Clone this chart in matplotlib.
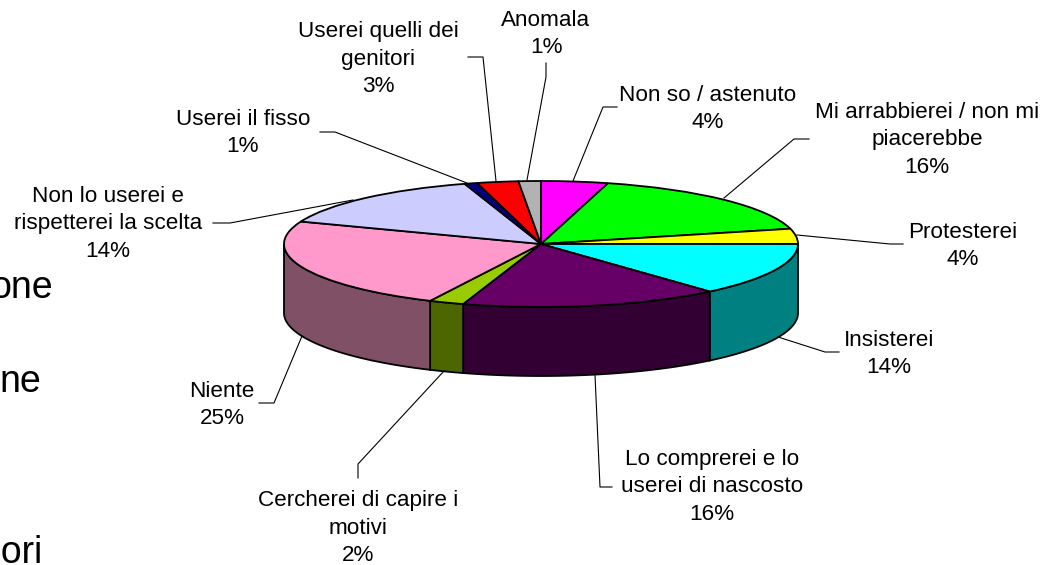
import matplotlib
matplotlib.use('Agg')
import matplotlib.pyplot as plt
import numpy as np

plt.rcParams['font.family'] = ['Liberation Sans', 'DejaVu Sans']

# shares, clockwise from 12 o'clock
labels = ['Non so / astenuto\n4%', 'Mi arrabbierei / non mi\npiacerebbe\n16%',
          'Protesterei\n4%', 'Insisterei\n14%',
          'Lo comprerei e lo\nuserei di nascosto\n16%',
          'Cercherei di capire i\nmotivi\n2%', 'Niente\n25%',
          'Non lo userei e\nrispetterei la scelta\n14%', 'Userei il fisso\n1%',
          'Userei quelli dei\ngenitori\n3%', 'Anomala\n1%']
values = [4.2, 16.9, 3.9, 13.6, 16.3, 2.2, 23.7, 14.4, 0.8, 2.6, 1.4]
top_colors = ['#FF00FF', '#00FF00', '#FFFF00', '#00FFFF', '#660066', '#99CC00',
              '#FF99CC', '#CCCCFF', '#000080', '#FF0000', '#B2B2B2']
side_colors = ['#800080', '#008000', '#808000', '#008080', '#330033', '#4D6600',
               '#805066', '#666680', '#000040', '#800000', '#595959']

# layout in pixels
W, H = 1051, 565
CX, CY = 541, 244
RX, RY = 257, 63
DEPTH = 69
label_pos = [(708, 109), (927, 140), (963, 246), (889, 354), (712, 487), (358, 528),
             (222, 405), (108, 224), (243, 133), (378, 59), (546, 34)]
leaders = [[(617, 107), (603, 107), (573, 181)],
           [(809, 139), (794, 139), (724, 198)],
           [(797, 235), (890, 244), (903, 244)],
           [(778, 337), (825, 352), (839, 352)],
           [(595, 375), (600, 487), (612, 487)],
           [(444, 371), (358, 464), (358, 478)],
           [(302, 336), (274, 403), (259, 403)],
           [(353, 200), (230, 223), (213, 223)],
           [(467, 183), (335, 132), (320, 132)],
           [(496, 181), (483, 57), (468, 57)],
           [(527, 180), (546, 77), (546, 63)]]
side_text = [('one', 53, 298), ('ne', 41, 392), ('uori', 43, 563)]

fig = plt.figure(figsize=(W / 100, H / 100), dpi=100)
ax = fig.add_axes([0, 0, 1, 1])
edge = dict(edgecolor='black', linewidth=1.3)
ax.pie(values, colors=top_colors, startangle=90, counterclock=False,
       wedgeprops=dict(zorder=3, **edge))
# unit circle stretched to the flat ellipse of the top face
ax.set_aspect('auto')
ax.set_xlim(-CX / RX, (W - CX) / RX)
ax.set_ylim((CY - H) / RY, CY / RY)

# side wall, front half only
drop = DEPTH / RY
bounds = np.cumsum([0] + values) * 3.6
for a0, a1, col in zip(bounds[:-1], bounds[1:], side_colors):
    a0, a1 = max(a0, 90), min(a1, 270)
    if a1 <= a0:
        continue
    t = np.radians(np.linspace(a0, a1, 60))
    x, y = np.sin(t), np.cos(t)
    ax.fill(np.r_[x, x[::-1]], np.r_[y, y[::-1] - drop], facecolor=col, zorder=2, **edge)

# labels and leader lines on a pixel overlay
ov = fig.add_axes([0, 0, 1, 1], facecolor='none')
ov.set_xlim(0, W)
ov.set_ylim(H, 0)
ov.axis('off')
for txt, pos, pts in zip(labels, label_pos, leaders):
    ov.text(pos[0], pos[1], txt, ha='center', va='center', fontsize=16.2,
            linespacing=1.42, color='black')
    ov.plot([p[0] for p in pts], [p[1] for p in pts], color='black', lw=0.8)
for txt, x, y in side_text:
    ov.text(x, y, txt, ha='right', va='baseline', fontsize=27, color='black')

fig.savefig('out.png', dpi=100, facecolor='white')
